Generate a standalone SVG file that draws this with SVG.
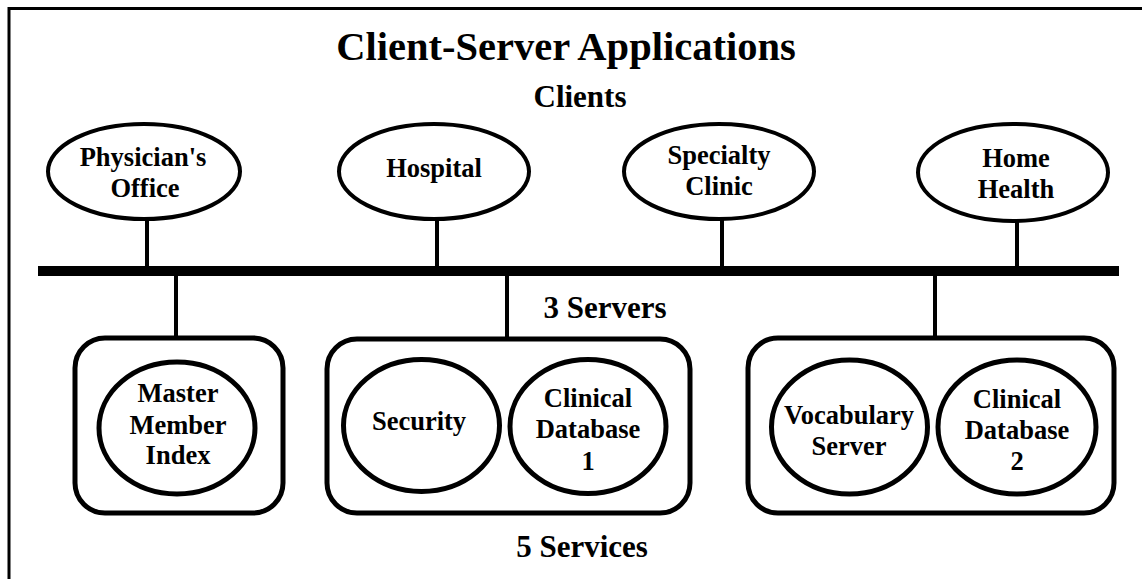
<svg xmlns="http://www.w3.org/2000/svg" width="1142" height="579" viewBox="0 0 1142 579">
  <style>
    text { font-family: "Liberation Serif", "Times New Roman", serif; font-weight: bold; fill: #000; text-anchor: middle; }
    .title { font-size: 40.5px; }
    .head { font-size: 31px; }
    .lbl { font-size: 26.5px; }
    .client { fill: #fff; stroke: #000; stroke-width: 4; }
    .svc { fill: #fff; stroke: #000; stroke-width: 5; }
    .server { fill: #fff; stroke: #000; stroke-width: 5; }
    .wire { stroke: #000; stroke-width: 4; fill: none; }
    .bus { stroke: #000; stroke-width: 10; fill: none; }
  </style>
  <rect width="1142" height="579" fill="#fff"/>
  <!-- outer frame (runs off the right and bottom edges) -->
  <rect x="9" y="8.5" width="1160" height="600" fill="none" stroke="#000" stroke-width="3"/>

  <text class="title" x="566" y="60">Client-Server Applications</text>
  <text class="head" x="580" y="107">Clients</text>
  <text class="head" x="605" y="318">3 Servers</text>
  <text class="head" x="582" y="557">5 Services</text>

  <g id="connectors">
    <line class="bus" x1="38" y1="271" x2="1119" y2="271"/>
    <line class="wire" x1="147" y1="219" x2="147" y2="268"/>
    <line class="wire" x1="437" y1="219" x2="437" y2="268"/>
    <line class="wire" x1="722" y1="219" x2="722" y2="268"/>
    <line class="wire" x1="1017" y1="222" x2="1017" y2="268"/>
    <line class="wire" x1="176" y1="274" x2="176" y2="337"/>
    <line class="wire" x1="507" y1="274" x2="507" y2="338"/>
    <line class="wire" x1="935" y1="274" x2="935" y2="337"/>
  </g>

  <g id="physicians-office">
    <ellipse class="client" cx="144" cy="171.5" rx="96" ry="47.5"/>
    <text class="lbl" x="143" y="166">Physician's</text>
    <text class="lbl" x="145" y="197">Office</text>
  </g>
  <g id="hospital">
    <ellipse class="client" cx="434" cy="171.5" rx="95" ry="47.5"/>
    <text class="lbl" x="434" y="177">Hospital</text>
  </g>
  <g id="specialty-clinic">
    <ellipse class="client" cx="719" cy="171.5" rx="95" ry="47.5"/>
    <text class="lbl" x="719" y="164">Specialty</text>
    <text class="lbl" x="719" y="195">Clinic</text>
  </g>
  <g id="home-health">
    <ellipse class="client" cx="1013" cy="172.5" rx="95" ry="48.5"/>
    <text class="lbl" x="1016" y="167">Home</text>
    <text class="lbl" x="1016" y="198">Health</text>
  </g>

  <g id="server-1">
    <rect class="server" x="75" y="338" width="208" height="175" rx="30"/>
    <g id="master-member-index">
      <ellipse class="svc" cx="177" cy="428" rx="78" ry="66"/>
      <text class="lbl" x="178" y="402">Master</text>
      <text class="lbl" x="178" y="434">Member</text>
      <text class="lbl" x="178" y="464">Index</text>
    </g>
  </g>

  <g id="server-2">
    <rect class="server" x="327" y="339" width="363" height="174" rx="30"/>
    <g id="security">
      <ellipse class="svc" cx="421.5" cy="425.5" rx="78" ry="66"/>
      <text class="lbl" x="419" y="430">Security</text>
    </g>
    <g id="clinical-database-1">
      <ellipse class="svc" cx="588" cy="426.5" rx="78" ry="67"/>
      <text class="lbl" x="588" y="407">Clinical</text>
      <text class="lbl" x="588" y="438">Database</text>
      <text class="lbl" x="588" y="470">1</text>
    </g>
  </g>

  <g id="server-3">
    <rect class="server" x="748" y="338" width="366" height="175" rx="30"/>
    <g id="vocabulary-server">
      <ellipse class="svc" cx="849.5" cy="427" rx="78" ry="67"/>
      <text class="lbl" x="849" y="424">Vocabulary</text>
      <text class="lbl" x="849" y="455">Server</text>
    </g>
    <g id="clinical-database-2">
      <ellipse class="svc" cx="1017" cy="427" rx="79" ry="67"/>
      <text class="lbl" x="1017" y="408">Clinical</text>
      <text class="lbl" x="1017" y="439">Database</text>
      <text class="lbl" x="1017" y="470">2</text>
    </g>
  </g>
</svg>
